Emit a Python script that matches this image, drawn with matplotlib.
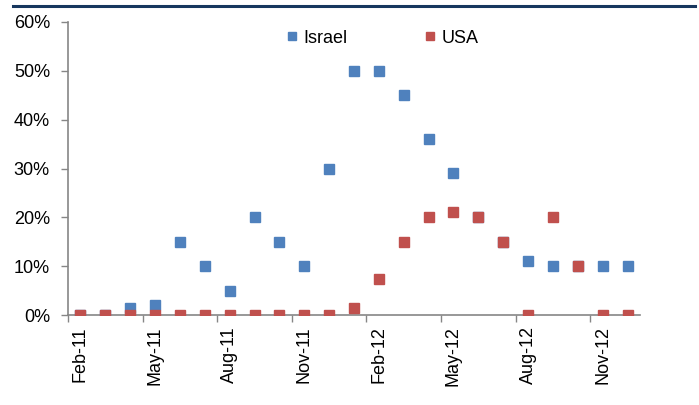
import matplotlib
matplotlib.use("Agg")
import matplotlib.pyplot as plt
from matplotlib.lines import Line2D
from matplotlib import font_manager

# Monthly share, Feb-11 .. Dec-12 (percent)
months = ["Feb-11", "Mar-11", "Apr-11", "May-11", "Jun-11", "Jul-11", "Aug-11",
          "Sep-11", "Oct-11", "Nov-11", "Dec-11", "Jan-12", "Feb-12", "Mar-12",
          "Apr-12", "May-12", "Jun-12", "Jul-12", "Aug-12", "Sep-12", "Oct-12",
          "Nov-12", "Dec-12"]
israel = [0, 0, 1.5, 2, 15, 10, 5, 20, 15, 10, 30, 50, 50, 45, 36, 29, 20, 15,
          11, 10, 10, 10, 10]
usa = [0, 0, 0, 0, 0, 0, 0, 0, 0, 0, 0, 1.4, 7.4, 15, 20, 21, 20, 15, 0, 20,
       10, 0, 0]
yticks = [0, 10, 20, 30, 40, 50, 60]
label_every = 3

BLUE = "#4F81BD"
RED = "#C0504D"
GREY = "#868686"
NAVY = "#17375E"

installed = {f.name for f in font_manager.fontManager.ttflist}
family = ["Liberation Sans Narrow"] if "Liberation Sans Narrow" in installed else ["Liberation Sans"]
plt.rcParams["font.family"] = family + ["DejaVu Sans"]

fig = plt.figure(figsize=(6.99, 4.05), dpi=100)
ax = fig.add_axes([0.0973, 0.2222, 0.8183, 0.7235])

x = list(range(len(months)))
ax.plot(x, israel, linestyle="none", marker="s", markersize=7,
        color=BLUE, markeredgecolor=BLUE, label="Israel", zorder=3)
ax.plot(x, usa, linestyle="none", marker="s", markersize=7,
        color=RED, markeredgecolor=RED, label="USA", zorder=4)

ax.set_xlim(-0.5, len(months) - 0.5)
ax.set_ylim(0, 60)

# y axis
ax.set_yticks(yticks)
ax.set_yticklabels([f"{v}%" for v in yticks], fontsize=13)
ax.tick_params(axis="y", direction="out", length=5, width=1, color=GREY, pad=8)

# x axis: tick marks on category boundaries, labels on category centres
bounds = [i - 0.5 for i in range(0, len(months), label_every)]
ax.set_xticks(bounds)
ax.set_xticklabels([""] * len(bounds))
ax.tick_params(axis="x", which="major", direction="out", length=5, width=1, color=GREY)
centres = list(range(0, len(months), label_every))
ax.set_xticks(centres, minor=True)
ax.set_xticklabels([months[i] for i in centres], minor=True, rotation=90, fontsize=13)
ax.tick_params(axis="x", which="minor", length=0, pad=8)

for side in ("top", "right"):
    ax.spines[side].set_visible(False)
for side in ("left", "bottom"):
    ax.spines[side].set_color(GREY)
    ax.spines[side].set_linewidth(1.2)

handles = [Line2D([], [], linestyle="none", marker="s", markersize=6, color=BLUE),
           Line2D([], [], linestyle="none", marker="s", markersize=6, color=RED)]
ax.legend(handles, ["Israel", "USA"], loc="center", bbox_to_anchor=(0.547, 0.945),
          ncol=2, frameon=False, fontsize=13, handletextpad=0.1,
          columnspacing=4.1, handlelength=1.0)

# header rule
fig.add_artist(Line2D([13 / 699, 695 / 699], [1 - 5.5 / 405, 1 - 5.5 / 405],
                      color=NAVY, linewidth=2.2))

fig.savefig("out.png", dpi=100)
